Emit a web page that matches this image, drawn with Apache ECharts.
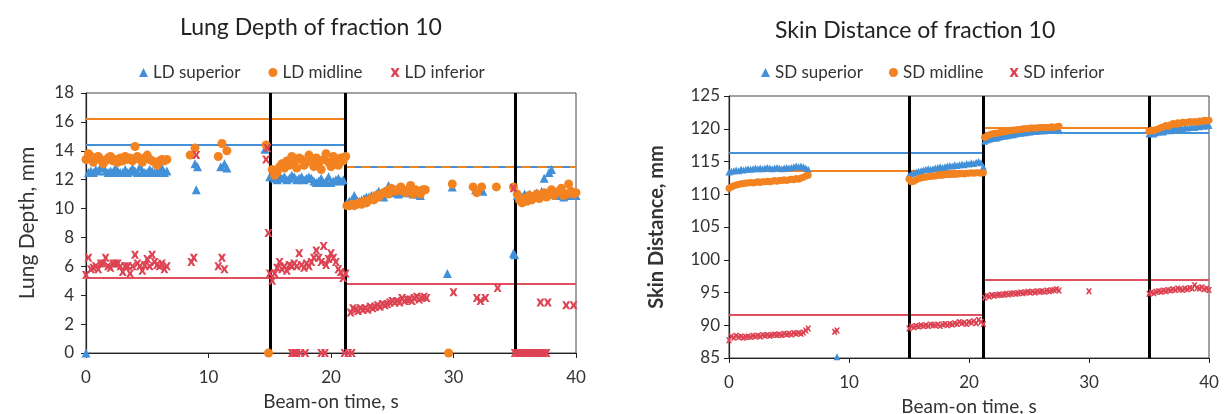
<!DOCTYPE html>
<html>
<head>
<meta charset="utf-8">
<script src="https://cdn.jsdelivr.net/npm/echarts@6/dist/echarts.min.js"></script>
<style>
  html, body { margin: 0; padding: 0; background: #fff; }
  #chart { width: 1225px; height: 414px; }
</style>
</head>
<body>
<div id="chart"></div>
<script>
// sampling step of the beam-on clock (s)
var STEP = 0.2;

// ---- Lung Depth (left) ----
// runs: [start time, values...] sampled every STEP
var ldSupRuns = [
  [0.2, [12.5,12.6,12.5,12.7,12.6,12.9,12.8,12.6,12.5,12.6,12.5,12.8,12.6,12.5,12.5,12.7,12.5,12.6,12.8,12.6,12.5,12.9,12.6,12.5,12.5,12.7,12.6,12.5,12.5,12.6,12.8,12.5,12.6]],
  [15.2, [12.3,12.1,12.0,12.2,12.1,12.2,12.0,12.1,12.3,12.2,12.0,12.1,12.2,12.0,12.1,12.2,12.1,11.9,11.8,11.9,12.1,11.8,11.9,12.2,11.8,11.9,12.0,12.1,11.9,12.0]],
  [21.3, [10.4,10.5,10.6,10.9,10.6,10.5,10.6,10.7,10.8,10.8,10.9,10.9,11.0,11.2,11.0,10.8,11.1,11.6,11.2,11.1,11.3,11.0,11.2,11.1,11.2,11.3,11.1,11.0,11.2,11.0,10.9]],
  [35.2, [10.9,10.7,10.8,11.0,10.9,11.0,10.8,11.0,11.1,10.9,11.2,12.1,11.0,12.5,12.7,11.1,10.9,11.0,11.2,10.8,11.0,10.9,11.1,11.0,10.9]]
];
var ldSupPts = [[0,0],[8.9,13.1],[9.1,12.9],[9.0,11.3],[11.0,12.9],[11.3,13.1],[11.5,12.8],[14.6,14.1],[15.0,12.2],
  [29.9,11.5],[29.5,5.5],[31.8,11.3],[32.4,11.2],[35.0,6.8],[34.9,6.9]];

var ldMidRuns = [
  [0.0, [13.4,13.8,13.6,13.2,13.5,13.6,13.4,13.1,13.3,13.5,13.6,13.3,13.4,13.2,13.5,13.3,13.6,13.4,13.5,13.3,14.3,13.6,13.4,13.2,13.5,13.7,13.4,13.3,13.2,13.0,13.3,13.4,13.3,13.4]],
  [15.2, [12.7,12.3,12.5,12.9,13.1,12.8,13.3,13.0,13.6,13.2,12.8,13.5,13.4,13.0,13.2,13.7,13.3,12.9,13.5,13.1,12.7,13.4,13.8,13.2,12.9,13.6,13.4,13.0,13.5,13.3,13.6]],
  [21.3, [10.2,10.2,10.3,10.2,10.3,10.4,10.3,10.5,10.4,10.6,10.7,10.6,10.9,10.8,11.0,11.1,11.2,11.0,11.4,11.3,11.2,11.3,11.5,11.2,11.1,11.3,11.6,11.0,11.3,11.2,11.0,11.3,11.3]],
  [35.2, [11.0,10.6,10.4,10.7,10.5,10.9,10.6,10.8,11.0,10.7,10.9,11.1,10.8,11.0,11.3,10.9,11.1,11.2,11.4,10.9,11.0,11.7,11.2,11.0,11.1]]
];
var ldMidPts = [[8.5,13.7],[8.9,14.2],[10.8,13.6],[11.1,14.5],[11.5,14.0],[14.7,14.4],[14.9,0],
  [29.9,11.7],[29.6,0],[31.6,11.5],[31.9,11.1],[32.3,11.5],[33.5,11.5],[34.9,11.5]];

var ldInfRuns = [
  [0.0, [5.4,6.6,5.8,5.9,6.0,5.8,6.2,6.2,6.6,6.0,5.9,6.2,6.2,6.2,6.0,5.6,6.0,6.0,5.5,6.0,6.8,6.2,6.0,5.7,6.1,6.5,6.0,6.8,6.3,6.1,6.0,6.2,5.8,6.0]],
  [15.2, [5.0,5.5,5.9,6.3,5.8,6.0,5.7,6.1,6.0,6.2,6.0,6.9,6.1,5.9,6.2,6.0,6.3,6.6,7.1,6.6,6.3,7.4,6.1,6.5,6.9,6.6,6.3,5.8,5.6,5.2,5.5]],
  [21.6, [2.8,3.1,3.0,2.9,3.1,3.0,3.1,3.0,3.2,3.1,3.2,3.3,3.2,3.4,3.3,3.4,3.5,3.6,3.5,3.6,3.5,3.8,3.6,3.7,3.7,3.6,3.8,3.9,3.7,3.8,3.9,3.8]],
  [35.0, [0,0,0,0,0,0,0,0,0,0,0,0,0,0]]
];
var ldInfPts = [[8.6,6.3],[8.8,6.6],[9.0,13.7],[10.8,6.0],[11.1,6.6],[11.3,5.8],[14.7,13.4],[14.8,14.2],[14.9,8.3],[15.0,5.5],
  [16.8,0],[17.0,0],[17.2,0],[17.5,0],[17.9,0],[19.2,0],[19.5,0],[21.1,0],[21.4,0],[21.7,0],
  [30.0,4.2],[31.9,3.8],[32.2,3.6],[32.6,3.8],[33.6,4.5],[34.9,11.4],
  [37.1,3.5],[37.7,3.5],[39.2,3.3],[39.8,3.3]];

// segment means: [from, to, value]
var ldSupMean = [[0, 21.2, 14.4], [21.2, 40, 12.9]];
var ldMidMean = [[0, 21.2, 16.2], [21.2, 40, 12.9]];
var ldInfMean = [[0, 21.2, 5.2], [21.2, 40, 4.8]];
var ldBreaks = [15, 21.2, 35];

// ---- Skin Distance (right) ----
var sdSupRuns = [
  [0.0, [113.4,113.5,113.6,113.7,113.6,113.8,113.7,113.8,113.9,113.8,113.9,114.0,113.9,114.0,113.9,114.0,114.1,114.0,113.9,114.0,114.1,114.0,113.9,114.0,114.1,114.0,114.1,114.2,114.3,114.2,114.3,114.2,114.0,113.8]],
  [15.0, [112.9,113.1,113.3,113.4,113.5,113.6,113.7,113.8,113.9,113.8,113.9,114.0,114.1,114.2,114.1,114.2,114.3,114.4,114.3,114.5,114.4,114.5,114.6,114.5,114.7,114.6,114.8,114.7,114.9,115.0,114.8,114.2]],
  [21.3, [118.1,118.3,118.4,118.5,118.6,118.6,118.7,118.8,118.9,118.9,119.0,119.1,119.1,119.2,119.3,119.3,119.4,119.4,119.5,119.5,119.6,119.6,119.6,119.7,119.7,119.7,119.8,119.8,119.8,119.8,119.9,119.9]],
  [35.0, [119.2,119.3,119.2,119.4,119.5,119.6,119.5,119.7,119.8,119.7,119.9,120.0,119.9,120.1,120.0,120.2,120.1,120.2,120.3,120.2,120.4,120.3,120.5,120.4,120.6,120.5]]
];
var sdSupPts = [[9.0,85.2]];

var sdMidRuns = [
  [0.0, [110.9,111.1,111.3,111.4,111.5,111.6,111.6,111.7,111.7,111.8,111.7,111.8,111.9,111.8,111.9,111.9,112.0,111.9,112.0,112.1,112.0,112.1,112.1,112.2,112.1,112.2,112.3,112.2,112.4,112.3,112.5,112.6,112.8,112.9]],
  [15.0, [112.3,111.9,112.0,112.2,112.4,112.5,112.6,112.6,112.7,112.7,112.8,112.8,112.9,112.9,112.9,113.0,113.0,113.0,113.1,113.0,113.1,113.1,113.2,113.1,113.2,113.2,113.3,113.2,113.3,113.3,113.2,113.3]],
  [21.3, [118.7,118.9,119.1,119.2,119.3,119.3,119.4,119.5,119.5,119.6,119.7,119.7,119.8,119.8,119.9,119.9,120.0,120.0,120.0,120.1,120.1,120.1,120.1,120.2,120.2,120.2,120.2,120.2,120.3,120.2,120.3,120.4]],
  [35.0, [119.6,119.8,119.7,119.9,120.0,120.2,120.3,120.5,120.4,120.6,120.8,120.7,120.9,120.8,121.0,120.9,121.0,121.1,121.0,121.1,121.0,121.2,121.1,121.3,121.2,121.3]]
];
var sdMidPts = [];

var sdInfRuns = [
  [0.0, [87.7,88.3,88.1,88.4,88.2,88.3,88.1,88.2,88.3,88.2,88.4,88.3,88.4,88.3,88.5,88.4,88.5,88.4,88.5,88.6,88.5,88.6,88.5,88.7,88.6,88.7,88.6,88.8,88.7,88.8,88.7,88.9,89.2,89.5]],
  [15.0, [89.5,89.8,89.7,89.9,89.8,90.0,89.9,90.0,89.9,90.1,90.0,90.0,90.1,89.9,90.1,90.2,90.0,90.2,90.1,90.3,90.2,90.5,90.3,90.4,90.2,90.5,90.4,90.6,90.3,90.8,90.5,90.2]],
  [21.3, [94.2,94.5,94.4,94.6,94.5,94.6,94.7,94.6,94.7,94.8,94.7,94.8,94.9,94.8,94.9,95.0,94.9,95.0,95.1,95.0,95.1,95.0,95.2,95.1,95.2,95.1,95.3,95.2,95.3,95.4,95.5,95.3]],
  [35.0, [94.8,95.0,94.9,95.1,95.2,95.1,95.3,95.2,95.4,95.3,95.5,95.4,95.6,95.5,95.4,95.6,95.5,95.7,95.6,96.1,95.7,95.6,95.8,95.5,95.6,95.4]]
];
var sdInfPts = [[8.8,89.0],[9.0,89.2],[30.0,95.2]];

var sdSupMean = [[0, 21.2, 116.4], [21.2, 40, 119.4]];
var sdMidMean = [[0, 21.2, 113.6], [21.2, 40, 120.1]];
var sdInfMean = [[0, 21.2, 91.6], [21.2, 40, 97.0]];
var sdBreaks = [15, 21.2, 35];

var BLUE = '#4290d8';
var ORANGE = '#f38220';
var RED = '#dd4352';
var FONT = 'Lato, "Liberation Sans", sans-serif';
var CROSS = 'path://M0,0 L3,0 L5,3 L7,0 L10,0 L7,5 L10,10 L7,10 L5,7 L3,10 L0,10 L3,5 Z';

function runPoints(runs, extra) {
  var pts = [];
  runs.forEach(function (r) {
    r[1].forEach(function (v, i) {
      pts.push([Math.round((r[0] + i * STEP) * 100) / 100, v]);
    });
  });
  return pts.concat(extra);
}

function meanLines(means, color, g, dashedFrom) {
  return {
    type: 'lines', coordinateSystem: 'cartesian2d',
    xAxisIndex: g, yAxisIndex: g, z: 1, silent: true,
    data: means.map(function (m, i) {
      return {
        coords: [[m[0], m[2]], [m[1], m[2]]],
        lineStyle: { color: color, width: 2, type: (dashedFrom !== undefined && i >= dashedFrom) ? [9, 7] : 'solid', opacity: 1 }
      };
    })
  };
}

function breakLines(breaks, yMin, yMax, g) {
  return {
    type: 'lines', coordinateSystem: 'cartesian2d',
    xAxisIndex: g, yAxisIndex: g, z: 2, silent: true,
    data: breaks.map(function (b) {
      return { coords: [[b, yMin], [b, yMax]] };
    }),
    lineStyle: { color: '#000', width: 3, opacity: 1 }
  };
}

function scatter(name, data, g, symbol, size, color) {
  return {
    name: name, type: 'scatter', xAxisIndex: g, yAxisIndex: g, z: 3,
    symbol: symbol, symbolSize: size, data: data,
    itemStyle: { color: color, opacity: 1 }
  };
}

function xAxis(g) {
  return {
    type: 'value', gridIndex: g, min: 0, max: 40, interval: 10,
    name: 'Beam-on time, s', nameLocation: 'middle', nameGap: 39,
    nameTextStyle: { fontSize: 19, color: '#333', fontFamily: FONT },
    axisLine: { onZero: false, lineStyle: { color: '#222', width: 1.2 } },
    axisTick: { show: true, inside: false, length: 5, lineStyle: { color: '#222' } },
    axisLabel: { fontSize: 17, color: '#333', margin: 16, fontFamily: FONT },
    splitLine: { show: false }
  };
}

var chart = echarts.init(document.getElementById('chart'));
chart.setOption({
  animation: false,
  backgroundColor: '#fff',
  title: [
    { text: 'Lung Depth of fraction 10', left: 175, top: 11,
      textStyle: { fontSize: 23, fontWeight: 'normal', color: '#222', fontFamily: FONT } },
    { text: 'Skin Distance of fraction 10', left: 770, top: 14,
      textStyle: { fontSize: 23, fontWeight: 'normal', color: '#222', fontFamily: FONT } }
  ],
  legend: [
    { data: ['LD superior', 'LD midline', 'LD inferior'], left: 134, top: 59,
      itemWidth: 9, itemHeight: 9, itemGap: 28,
      textStyle: { fontSize: 17, color: '#333', fontFamily: FONT } },
    { data: ['SD superior', 'SD midline', 'SD inferior'], left: 756, top: 59,
      itemWidth: 9, itemHeight: 9, itemGap: 26,
      textStyle: { fontSize: 17, color: '#333', fontFamily: FONT } }
  ],
  grid: [
    { left: 86, top: 93, width: 490, height: 260, show: true, borderColor: '#444', borderWidth: 1, outerBoundsMode: 'none', containLabel: false },
    { left: 729, top: 96, width: 480, height: 262, show: true, borderColor: '#444', borderWidth: 1, outerBoundsMode: 'none', containLabel: false }
  ],
  xAxis: [xAxis(0), xAxis(1)],
  yAxis: [
    { type: 'value', gridIndex: 0, min: 0, max: 18, interval: 2,
      name: 'Lung Depth, mm', nameLocation: 'middle', nameGap: 48,
      nameTextStyle: { fontSize: 21, color: '#333', fontFamily: FONT },
      axisLine: { show: true, lineStyle: { color: '#222', width: 1.2 } },
      axisTick: { show: true, length: 5, lineStyle: { color: '#222' } },
      axisLabel: { fontSize: 17, color: '#333', margin: 12, fontFamily: FONT },
      splitLine: { show: false } },
    { type: 'value', gridIndex: 1, min: 85, max: 125, interval: 5,
      name: 'Skin Distance, mm', nameLocation: 'middle', nameGap: 62,
      nameTextStyle: { fontSize: 20, fontWeight: 'bold', color: '#333', fontFamily: FONT },
      axisLine: { show: true, lineStyle: { color: '#222', width: 1.2 } },
      axisTick: { show: true, length: 5, lineStyle: { color: '#222' } },
      axisLabel: { fontSize: 17, color: '#333', margin: 9, fontFamily: FONT },
      splitLine: { show: false } }
  ],
  series: [
    meanLines(ldSupMean, BLUE, 0),
    meanLines(ldMidMean, ORANGE, 0, 1),
    meanLines(ldInfMean, '#e0505e', 0),
    breakLines(ldBreaks, 0, 18, 0),
    scatter('LD superior', runPoints(ldSupRuns, ldSupPts), 0, 'triangle', 9, BLUE),
    scatter('LD midline', runPoints(ldMidRuns, ldMidPts), 0, 'circle', 9, ORANGE),
    scatter('LD inferior', runPoints(ldInfRuns, ldInfPts), 0, CROSS, 8, RED),

    meanLines(sdSupMean, BLUE, 1),
    meanLines(sdMidMean, ORANGE, 1),
    meanLines(sdInfMean, '#e0505e', 1),
    breakLines(sdBreaks, 85, 125, 1),
    scatter('SD superior', runPoints(sdSupRuns, sdSupPts), 1, 'triangle', 7, BLUE),
    scatter('SD midline', runPoints(sdMidRuns, sdMidPts), 1, 'circle', 7, ORANGE),
    scatter('SD inferior', runPoints(sdInfRuns, sdInfPts), 1, CROSS, 6, RED)
  ]
});
</script>
</body>
</html>
